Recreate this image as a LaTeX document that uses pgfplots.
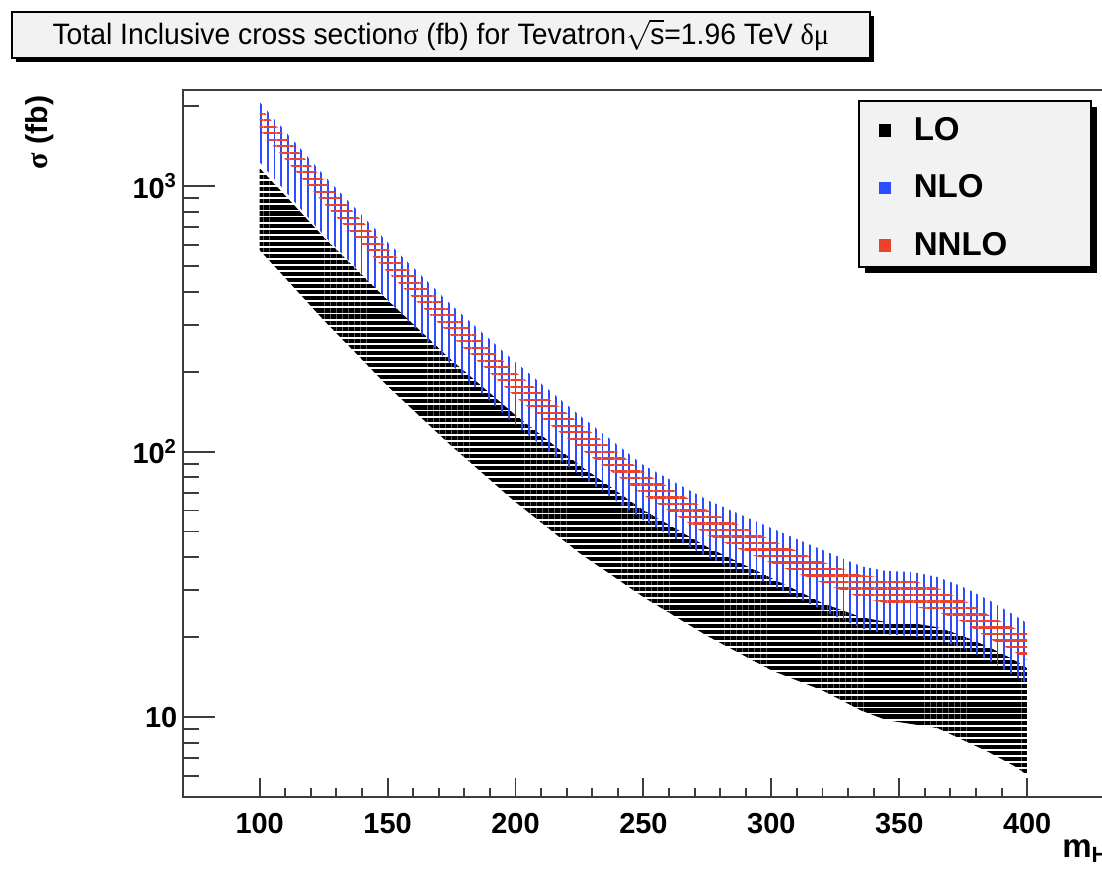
\documentclass[border=0pt]{standalone}
\usepackage{fontspec}
\setmainfont{Liberation Sans}
\newfontfamily\grk{Liberation Serif}
\usepackage{pgfplots}
\usepackage{pgfplotstable}
\pgfplotsset{compat=1.18}
\usepgfplotslibrary{fillbetween}
\usetikzlibrary{patterns.meta,shadows}
\definecolor{rootblue}{RGB}{45,75,255}
\definecolor{rootred}{RGB}{235,65,45}
\definecolor{boxgray}{RGB}{242,242,242}
\definecolor{framegray}{RGB}{60,60,60}

\pgfplotstableread{
m lotop lobot nlotop nlobot nnlotop nnlobot
100 1169 574 2072 1231 1984 1625
125 643 313 1100 654 1053 863
150 372 176.5 615 372 584 474.5
175 221 104.9 356 212 335 272
200 137.2 64.5 217 125.9 199 160.5
225 88.9 41.5 137.2 81.5 128.0 103.1
250 60.2 28.3 88.9 55.2 83.7 68.6
275 43.7 20.2 65.7 40.1 60.2 48.5
300 33.4 15.0 51.5 31.4 46.4 38.0
320 26.9 12.6 42.6 25.3 38.4 32.0
335 23.8 10.6 37.0 21.6 34.3 28.1
345 22.8 9.74 35.5 20.5 33.4 26.9
355 22.6 9.41 35.2 20.2 32.8 26.2
365 21.8 9.09 33.7 19.5 30.6 24.9
375 20.2 8.19 30.9 18.2 27.6 22.8
385 18.35 7.38 27.6 16.4 24.2 19.8
395 16.4 6.54 24.2 14.3 21.6 17.6
400 15.3 6.05 22.6 13.4 20.7 16.4
}\datatable

\begin{document}
\begin{tikzpicture}
% legend box and its shadow (drawn first, legend entries come from the axis)
\fill[black] (247.6pt,190.2pt) rectangle (331.7pt,250.5pt);
\filldraw[fill=boxgray, draw=black, line width=0.6pt] (245.4pt,192.4pt) rectangle (329.5pt,252.7pt);
\begin{axis}[
  at={(0pt,0pt)}, anchor=south west,
  scale only axis, width=334.3pt, height=256.6pt,
  xmin=70, xmax=430,
  ymode=log, ymin=5, ymax=2300,
  xtick={100,150,...,400}, minor x tick num=4,
  ytick={10,100,1000},
  yticklabels={10,10\textsuperscript{2},10\textsuperscript{3}},
  minor ytick={6,7,8,9,20,30,40,50,60,70,80,90,200,300,400,500,600,700,800,900,2000},
  tick align=inside, xtick pos=bottom, ytick pos=left,
  /pgf/number format/assume math mode=true,
  ticklabel style={font=\bfseries\fontsize{10.5}{12}\selectfont},
  xticklabel style={yshift=-2.5pt},
  yticklabel style={xshift=1.5pt},
  xtick style={/pgfplots/major tick length=6.9pt,/pgfplots/minor tick length=3.45pt, framegray, line width=0.7pt},
  ytick style={/pgfplots/major tick length=11.6pt,/pgfplots/minor tick length=5.8pt, framegray, line width=0.7pt},
  axis line style={framegray, line width=0.9pt},
  legend style={at={(0.746,0.980)}, anchor=north west, draw=none, fill=none,
    font=\bfseries\fontsize{12}{14}\selectfont, row sep=7.0pt, inner xsep=3pt, inner ysep=2.5pt,
    cells={anchor=west}},
  legend image code/.code={\fill[#1, draw=none] (0pt,-2.2pt) rectangle (4.6pt,2.4pt); \path (10.5pt,0pt);},
]
\addplot[draw=none, name path=lot, forget plot] table[x=m, y=lotop] {\datatable};
\addplot[draw=none, name path=lob, forget plot] table[x=m, y=lobot] {\datatable};
\addplot[draw=none, name path=nlot, forget plot] table[x=m, y=nlotop] {\datatable};
\addplot[draw=none, name path=nlob, forget plot] table[x=m, y=nlobot] {\datatable};
\addplot[draw=none, name path=nnlot, forget plot] table[x=m, y=nnlotop] {\datatable};
\addplot[draw=none, name path=nnlob, forget plot] table[x=m, y=nnlobot] {\datatable};
\addplot[draw=none, pattern={Lines[angle=0,distance=2.2pt,line width=1.5pt]}, pattern color=black, forget plot] fill between[of=lot and lob];
\addplot[draw=none, pattern={Lines[angle=90,distance=2.43pt,line width=0.7pt]}, pattern color=rootblue, forget plot] fill between[of=nlot and nlob];
\addplot[draw=none, pattern={Lines[angle=0,distance=2.36pt,line width=0.75pt]}, pattern color=rootred, forget plot] fill between[of=nnlot and nnlob];
\addlegendimage{fill=black}
\addlegendentry{LO}
\addlegendimage{fill=rootblue}
\addlegendentry{NLO}
\addlegendimage{fill=rootred}
\addlegendentry{NNLO}
\end{axis}
\node[draw=black, line width=0.6pt, fill=boxgray,
  drop shadow={shadow xshift=1.5pt, shadow yshift=-1.5pt, fill=black, opacity=1},
  minimum width=311.4pt, minimum height=16.7pt, inner sep=0pt]
  at (93.6pt,276.6pt)
  {\scalebox{0.96}[1]{\fontsize{10.7}{12}\selectfont Total Inclusive cross section{\grk σ} (fb) for Tevatron$\sqrt{\hbox{s}}$=1.96 TeV {\grk δμ}}};
\node[rotate=90, anchor=east, inner sep=0pt, font=\bfseries\fontsize{11}{13}\selectfont]
  at (-51.9pt,254.8pt) {{\grk σ} (fb)};
\node[anchor=base west, inner sep=0pt, font=\bfseries\fontsize{12}{14}\selectfont]
  at (319pt,-21.8pt) {m\textsubscript{H}};
\pgfresetboundingbox
\useasboundingbox (-66.4pt,-25.8pt) rectangle (333.6pt,289.3pt);
\end{tikzpicture}
\end{document}
